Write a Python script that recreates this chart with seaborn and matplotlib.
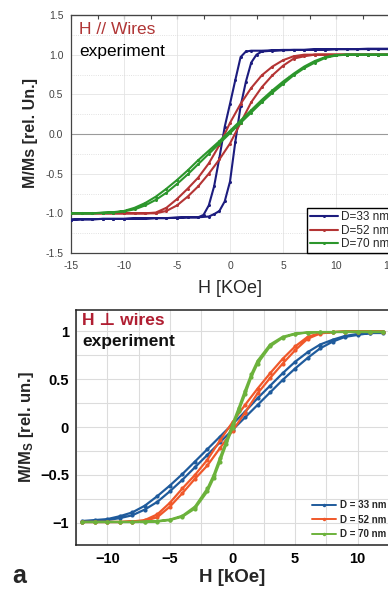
import matplotlib
matplotlib.use("Agg")
import matplotlib.pyplot as plt
import seaborn as sns
from matplotlib.ticker import MultipleLocator, FixedLocator, FixedFormatter
from matplotlib.lines import Line2D

# ---------------- top panel (H // wires) ----------------
top_labels = ["D=33 nm", "D=52 nm", "D=70 nm"]
top_colors = ["#1c1c7e", "#b43434", "#2c962c"]

top_h_blue_down = [15, 14, 13, 12, 11, 10, 9, 8, 7, 6, 5, 4, 3, 2, 1.5, 1, 0.5, 0, -0.5, -1, -1.5, -2, -2.5,
                   -3, -4, -5, -6, -7, -8, -9, -10, -11, -12, -13, -14, -15]
top_m_blue_down = [1.07, 1.07, 1.07, 1.07, 1.07, 1.07, 1.065, 1.065, 1.06, 1.06, 1.06, 1.055, 1.05, 1.05,
                   1.04, 0.97, 0.68, 0.38, 0.09, -0.30, -0.66, -0.90, -1.02,
                   -1.05, -1.05, -1.055, -1.06, -1.06, -1.065, -1.065, -1.07, -1.07, -1.07, -1.075, -1.075, -1.08]
top_h_blue_up = [-15, -14, -13, -12, -11, -10, -9, -8, -7, -6, -5, -4, -3,
                 -2, -1.5, -1, -0.5, 0, 0.5, 1, 1.5, 2, 2.5,
                 3, 4, 5, 6, 7, 8, 9, 10, 11, 12, 13, 14, 15]
top_m_blue_up = [-1.08, -1.075, -1.075, -1.07, -1.07, -1.07, -1.065, -1.065, -1.06, -1.06, -1.055, -1.05, -1.05,
                 -1.04, -1.01, -0.97, -0.85, -0.60, -0.10, 0.35, 0.66, 0.90, 1.00,
                 1.04, 1.05, 1.055, 1.06, 1.06, 1.065, 1.065, 1.07, 1.07, 1.07, 1.075, 1.075, 1.075]

top_h_down = [15, 14, 13, 12, 11, 10, 9, 8, 7, 6, 5, 4, 3, 2, 1, 0, -1, -2, -3, -4, -5, -6, -7, -8, -9, -10,
              -11, -12, -13, -14, -15]
top_h_up = [-15, -14, -13, -12, -11, -10, -9, -8, -7, -6, -5, -4, -3, -2, -1, 0, 1, 2, 3, 4, 5, 6, 7, 8, 9, 10,
            11, 12, 13, 14, 15]
top_m_red_down = [1.0, 1.0, 1.0, 1.0, 1.0, 1.0, 1.0, 1.0, 1.0, 0.98, 0.93, 0.85, 0.74, 0.58, 0.38, 0.14,
                  -0.14, -0.37, -0.55, -0.69, -0.82, -0.93, -0.99, -1.0, -1.0, -1.0, -1.0, -1.0, -1.0, -1.0, -1.0]
top_m_red_up = [-1.0, -1.0, -1.0, -1.0, -1.0, -1.0, -1.0, -1.0, -1.0, -0.97, -0.90, -0.79, -0.66, -0.50, -0.32,
                -0.12, 0.14, 0.40, 0.59, 0.74, 0.86, 0.95, 0.98, 1.0, 1.0, 1.0, 1.0, 1.0, 1.0, 1.0, 1.0]
top_m_green_down = [1.0, 1.0, 1.0, 1.0, 1.0, 0.995, 0.97, 0.92, 0.85, 0.76, 0.66, 0.55, 0.43, 0.30, 0.17, 0.04,
                    -0.09, -0.21, -0.33, -0.46, -0.58, -0.69, -0.79, -0.87, -0.93, -0.97, -0.985, -0.99,
                    -1.0, -1.0, -1.0]
top_m_green_up = [-1.0, -1.0, -1.0, -0.995, -0.99, -0.975, -0.95, -0.90, -0.83, -0.74, -0.63, -0.51, -0.38,
                  -0.25, -0.12, 0.01, 0.14, 0.27, 0.40, 0.52, 0.63, 0.74, 0.83, 0.90, 0.96, 0.99,
                  1.0, 1.0, 1.0, 1.0, 1.0]

top_xticks = [-15, -10, -5, 0, 5, 10, 15]
top_xticklabels = ["-15", "-10", "-5", "0", "5", "10", "15"]
top_yticks = [-1.5, -1.0, -0.5, 0.0, 0.5, 1.0, 1.5]
top_yticklabels = ["-1.5", "-1.0", "-0.5", "0.0", "0.5", "1.0", "1.5"]

# ---------------- bottom panel (H perpendicular wires) ----------------
bot_labels = ["D = 33 nm", "D = 52 nm", "D = 70 nm"]
bot_colors = ["#1f5b9c", "#f0582a", "#6cb23c"]

bot_h_down = [12, 11, 10, 9, 8, 7, 6, 5, 4, 3, 2, 1, 0, -1, -2, -3, -4, -5, -6, -7, -8, -9, -10, -11, -12]
bot_h_up = [-12, -11, -10, -9, -8, -7, -6, -5, -4, -3, -2, -1, 0, 1, 2, 3, 4, 5, 6, 7, 8, 9, 10, 11, 12]
bot_m_blue_down = [0.99, 0.98, 0.97, 0.95, 0.91, 0.86, 0.78, 0.68, 0.56, 0.43, 0.30, 0.16, 0.03, -0.10, -0.23,
                   -0.36, -0.49, -0.61, -0.72, -0.82, -0.89, -0.93, -0.96, -0.97, -0.98]
bot_m_blue_up = [-0.99, -0.98, -0.97, -0.95, -0.92, -0.86, -0.78, -0.67, -0.55, -0.42, -0.29, -0.16, -0.03,
                 0.10, 0.23, 0.36, 0.49, 0.61, 0.72, 0.82, 0.89, 0.94, 0.96, 0.98, 0.98]
bot_m_orange_down = [0.995, 0.995, 0.995, 0.995, 0.99, 0.98, 0.94, 0.84, 0.71, 0.56, 0.40, 0.23, 0.05, -0.14,
                     -0.34, -0.50, -0.64, -0.79, -0.91, -0.97, -0.985, -0.99, -0.99, -0.99, -0.99]
bot_m_orange_up = [-0.99, -0.99, -0.99, -0.99, -0.985, -0.98, -0.94, -0.83, -0.69, -0.54, -0.40, -0.22, -0.04,
                   0.15, 0.35, 0.51, 0.66, 0.80, 0.92, 0.975, 0.99, 0.995, 0.995, 0.995, 0.995]
bot_h_green_down = [12, 11, 10, 9, 8, 7, 6, 5, 4, 3, 2, 1.5, 1, 0.5, 0, -0.5, -1, -1.5, -2, -3, -4, -5, -6, -7,
                    -8, -9, -10, -11, -12]
bot_m_green_down = [0.995, 0.995, 0.995, 0.995, 0.99, 0.99, 0.985, 0.975, 0.94, 0.86, 0.69, 0.55, 0.38, 0.20,
                    0.03, -0.15, -0.32, -0.50, -0.64, -0.83, -0.925, -0.965, -0.98, -0.985, -0.99, -0.99,
                    -0.99, -0.99, -0.99]
bot_h_green_up = [-12, -11, -10, -9, -8, -7, -6, -5, -4, -3, -2, -1.5, -1, -0.5, 0, 0.5, 1, 1.5, 2, 3, 4, 5, 6,
                  7, 8, 9, 10, 11, 12]
bot_m_green_up = [-0.99, -0.99, -0.99, -0.99, -0.99, -0.99, -0.985, -0.97, -0.935, -0.85, -0.67, -0.53, -0.36,
                  -0.18, -0.01, 0.17, 0.34, 0.52, 0.66, 0.84, 0.93, 0.97, 0.985, 0.99, 0.99, 0.99, 0.99, 0.99,
                  0.99]

bot_xticks = [-10, -5, 0, 5, 10]
bot_xticklabels = ["\u221210", "\u22125", "0", "5", "10"]
bot_yticks = [-1, -0.5, 0, 0.5, 1]
bot_yticklabels = ["\u22121", "\u22120.5", "0", "0.5", "1"]

# ---------------- drawing ----------------
sns.set_style("white")
plt.rcParams['font.family'] = ['Liberation Sans', 'DejaVu Sans']
plt.rcParams['mathtext.fontset'] = 'custom'
plt.rcParams['mathtext.rm'] = 'Liberation Sans:bold'
plt.rcParams['mathtext.it'] = 'Liberation Sans:bold'
plt.rcParams['mathtext.bf'] = 'Liberation Sans:bold'

W, H = 388, 590
fig = plt.figure(figsize=(W / 100, H / 100), dpi=100)
fig.patch.set_facecolor("white")

# ---- top axes
ax1 = fig.add_axes([71 / W, 1 - 253 / H, 318 / W, 238 / H])
ax1.set_xlim(-15, 15)
ax1.set_ylim(-1.5, 1.5)
ax1.xaxis.set_major_locator(FixedLocator(top_xticks))
ax1.xaxis.set_major_formatter(FixedFormatter(top_xticklabels))
ax1.yaxis.set_major_locator(FixedLocator(top_yticks))
ax1.yaxis.set_major_formatter(FixedFormatter(top_yticklabels))
ax1.xaxis.set_minor_locator(MultipleLocator(2.5))
ax1.yaxis.set_minor_locator(MultipleLocator(0.25))
ax1.grid(True, which='major', color='#e4e4e4', lw=0.6)
ax1.grid(True, which='minor', axis='y', color='#d8d8d8', lw=0.6, ls=':')
ax1.axhline(0, color='#9a9a9a', lw=0.8, zorder=1)
ax1.tick_params(axis='both', which='major', direction='out', length=3, width=0.8, pad=2.5,
                labelsize=7.5, colors='#333333', labelcolor='#444444')
ax1.tick_params(axis='both', which='minor', direction='out', length=2, width=0.6, colors='#333333')
for s in ax1.spines.values():
    s.set_color('#444444')
    s.set_linewidth(0.9)
sec = ax1.secondary_xaxis('top')
sec.xaxis.set_major_locator(FixedLocator(top_xticks))
sec.xaxis.set_minor_locator(MultipleLocator(2.5))
sec.tick_params(which='both', direction='in', labeltop=False, length=3, width=0.8, colors='#444444')

top_series = [
    (top_h_blue_down + top_h_blue_up, top_m_blue_down + top_m_blue_up),
    (top_h_down + top_h_up, top_m_red_down + top_m_red_up),
    (top_h_down + top_h_up, top_m_green_down + top_m_green_up),
]
for (hx, my), c in zip(top_series, top_colors):
    sns.lineplot(x=hx, y=my, sort=False, estimator=None, ax=ax1, color=c, lw=1.5,
                 marker='o', markersize=2.2, markeredgewidth=0, legend=False, zorder=3)
ax1.set_xlabel("")
ax1.set_ylabel("")

ax1.text(0.025, 0.94, "H // Wires", transform=ax1.transAxes, color='#b03535', fontsize=12.5,
         ha='left', va='center')
ax1.text(0.025, 0.845, "experiment", transform=ax1.transAxes, color='black', fontsize=12.5,
         ha='left', va='center')

h1 = [Line2D([0], [0], color=c, lw=1.5, marker='o', markersize=2.2, markeredgewidth=0) for c in top_colors]
fig.legend(h1, top_labels, loc='lower left', bbox_to_anchor=(307 / W, 1 - 253 / H),
           bbox_transform=fig.transFigure, frameon=True, fancybox=False, edgecolor='black',
           framealpha=1, fontsize=8.5, handlelength=2.4, handletextpad=0.25, borderpad=0.25,
           labelspacing=0.12, borderaxespad=0)

fig.text(30 / W, 1 - 133 / H, "M/Ms [rel. Un.]", rotation=90, ha='center', va='center',
         fontsize=11.5, fontweight='bold')
fig.text(230 / W, 1 - 288 / H, "H [KOe]", ha='center', va='center', fontsize=13)

# ---- bottom axes
ax2 = fig.add_axes([76 / W, 1 - 545 / H, 313 / W, 235 / H])
ax2.set_xlim(-12.5, 12.5)
ax2.set_ylim(-1.23, 1.22)
ax2.xaxis.set_major_locator(FixedLocator(bot_xticks))
ax2.xaxis.set_major_formatter(FixedFormatter(bot_xticklabels))
ax2.yaxis.set_major_locator(FixedLocator(bot_yticks))
ax2.yaxis.set_major_formatter(FixedFormatter(bot_yticklabels))
ax2.xaxis.set_minor_locator(MultipleLocator(2.5))
ax2.yaxis.set_minor_locator(MultipleLocator(0.25))
ax2.grid(True, which='both', color='#dcdcdc', lw=0.8)
ax2.tick_params(axis='both', which='both', direction='in', length=3.5, width=1.0, colors='black',
                labelsize=10.5, pad=5)
for lab in ax2.get_xticklabels() + ax2.get_yticklabels():
    lab.set_fontweight('bold')
for s in ax2.spines.values():
    s.set_color('#222222')
    s.set_linewidth(1.1)

bot_series = [
    (bot_h_down + bot_h_up, bot_m_blue_down + bot_m_blue_up),
    (bot_h_down + bot_h_up, bot_m_orange_down + bot_m_orange_up),
    (bot_h_green_down + bot_h_green_up, bot_m_green_down + bot_m_green_up),
]
for (hx, my), c in zip(bot_series, bot_colors):
    sns.lineplot(x=hx, y=my, sort=False, estimator=None, ax=ax2, color=c, lw=1.6,
                 marker='o', markersize=3, markeredgewidth=0, legend=False, zorder=3)
ax2.set_xlabel("")
ax2.set_ylabel("")

ax2.text(0.02, 0.955, "H \u22a5 wires", transform=ax2.transAxes, color='#b01e32', fontsize=12.5,
         fontweight='bold', ha='left', va='center')
ax2.text(0.02, 0.865, "experiment", transform=ax2.transAxes, color='#111111', fontsize=12.5,
         fontweight='bold', ha='left', va='center')

h2 = [Line2D([0], [0], color=c, lw=1.4, marker='o', markersize=2.5, markeredgewidth=0) for c in bot_colors]
fig.legend(h2, bot_labels, loc='lower right', bbox_to_anchor=(387 / W, 1 - 539 / H),
           bbox_transform=fig.transFigure, frameon=False, prop={'size': 7, 'weight': 'bold'},
           handlelength=2.4, handletextpad=0.5, labelspacing=0.45, borderaxespad=0, borderpad=0)

fig.text(27 / W, 1 - 427 / H, r"M/M$_{S}$ [rel. un.]", rotation=90, ha='center', va='center',
         fontsize=12, fontweight='bold')
fig.text(232 / W, 1 - 577 / H, "H [kOe]", ha='center', va='center', fontsize=13.5, fontweight='bold')
fig.text(12 / W, 1 - 576 / H, "a", ha='left', va='center', fontsize=18, fontweight='bold')

fig.savefig("out.png", dpi=100, facecolor='white')
